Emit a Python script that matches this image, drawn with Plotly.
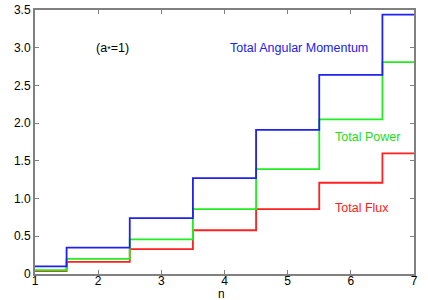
import plotly.graph_objects as go

n = [1, 2, 3, 4, 5, 6, 7]
angular_momentum = [0.10, 0.35, 0.74, 1.27, 1.91, 2.64, 3.44]
power = [0.05, 0.20, 0.46, 0.86, 1.39, 2.05, 2.81]
flux = [0.04, 0.16, 0.33, 0.58, 0.86, 1.21, 1.60]

x_ticks = [1, 2, 3, 4, 5, 6, 7]
y_ticks = [0, 0.5, 1.0, 1.5, 2.0, 2.5, 3.0, 3.5]
y_tick_text = ["0", "0.5", "1.0", "1.5", "2.0", "2.5", "3.0", "3.5"]

fig = go.Figure()
fig.add_trace(go.Scatter(x=n, y=flux, mode="lines", line=dict(shape="hvh", color="#ff2020", width=1.8), name="Total Flux"))
fig.add_trace(go.Scatter(x=n, y=power, mode="lines", line=dict(shape="hvh", color="#20ee20", width=1.8), name="Total Power"))
fig.add_trace(go.Scatter(x=n, y=angular_momentum, mode="lines", line=dict(shape="hvh", color="#2020f0", width=1.8), name="Total Angular Momentum"))

font = dict(family="Liberation Sans, Arial, sans-serif", size=12)
afont = dict(family="Liberation Sans, Arial, sans-serif", size=12.5)
fig.add_annotation(x=2.23, y=3.0, text="(a<span style='font-size:9px'>*</span>=1)", showarrow=False, font=dict(afont, color="black"), xanchor="center")
fig.add_annotation(x=5.18, y=3.0, text="Total Angular Momentum", showarrow=False, font=dict(afont, color="#2020f0"), xanchor="center")
fig.add_annotation(x=6.26, y=1.82, text="Total Power", showarrow=False, font=dict(afont, color="#20dd20"), xanchor="center")
fig.add_annotation(x=6.17, y=0.88, text="Total Flux", showarrow=False, font=dict(afont, color="#ff2020"), xanchor="center")
fig.add_annotation(x=3.96, xref="x", y=0, yref="paper", yshift=-20, yanchor="middle", text="n",
                   height=12, borderpad=0, valign="middle",
                   showarrow=False, font=dict(font, color="black"))

axis_common = dict(showline=True, linecolor="#808080", linewidth=2, mirror="allticks",
                   ticks="inside", ticklen=4, tickcolor="#808080", showgrid=False, zeroline=False,
                   tickfont=dict(font, color="black"), automargin=False)
fig.update_xaxes(range=[1, 7], tickvals=x_ticks, ticklabelstandoff=-5, **axis_common)
fig.update_yaxes(range=[0, 3.5], tickvals=y_ticks, ticktext=y_tick_text, **axis_common)

fig.update_layout(width=428, height=300, margin=dict(l=35, r=14, t=10, b=26),
                  plot_bgcolor="white", paper_bgcolor="white", showlegend=False, font=font)
fig.write_html("out.html", config={"displayModeBar": False},
               post_script="document.body.style.margin='0';document.body.style.overflow='hidden';")
